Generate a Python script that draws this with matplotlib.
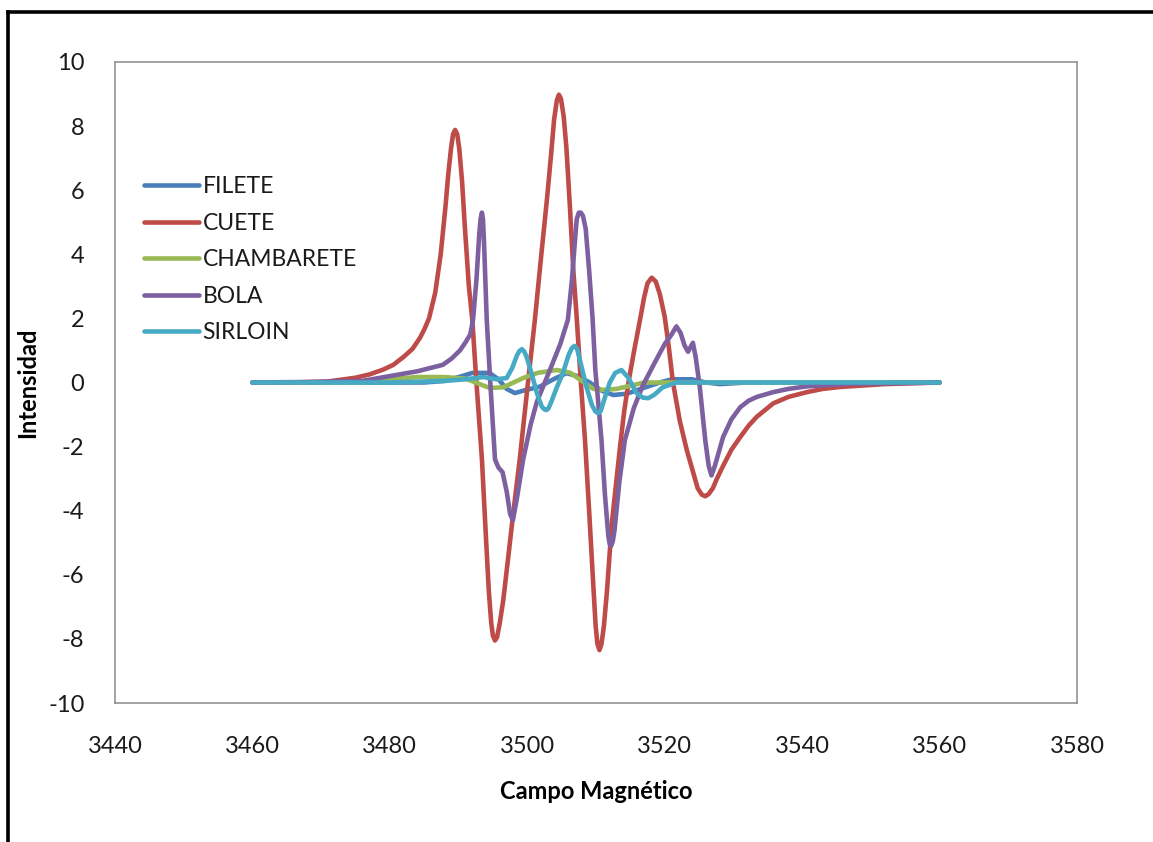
import matplotlib
matplotlib.use("Agg")
import matplotlib.pyplot as plt
from matplotlib.lines import Line2D

plt.rcParams['font.family'] = ['Lato', 'DejaVu Sans']
plt.rcParams['axes.unicode_minus'] = False

# EPR spectra: magnetic field (G) vs. intensity for each cut of beef
field_filete = [3460, 3485, 3488, 3490.5, 3492, 3494.5, 3495.8, 3497, 3498.2, 3499.5,
                3501.8, 3503.8, 3505.7, 3507.3, 3509.1, 3510.8, 3512.5, 3514.5, 3516.5,
                3519.3, 3521, 3524, 3526, 3528, 3532, 3560]
int_filete = [0, 0.0, 0.05, 0.2, 0.3, 0.3, 0.1, -0.2, -0.33, -0.25,
              -0.13, 0.1, 0.29, 0.2, 0.0, -0.25, -0.39, -0.35, -0.2,
              0.0, 0.1, 0.1, 0.0, -0.05, 0.0, 0]

field_cuete = [3460, 3466, 3471, 3475, 3477, 3479, 3480.5, 3482, 3483.3, 3484.4,
               3485.0, 3485.7, 3486.6, 3487.4, 3488.1, 3488.5, 3488.9, 3489.2, 3489.5,
               3489.8, 3490.1, 3490.5, 3490.9, 3491.5, 3492.0, 3492.6, 3493.4, 3494.0,
               3494.4, 3494.75, 3495.0, 3495.3, 3495.6, 3496.0, 3496.5, 3497.2, 3498.0,
               3498.9, 3500.0, 3501.1, 3502.0, 3502.9, 3503.5, 3503.9, 3504.3, 3504.6,
               3504.9, 3505.3, 3505.7, 3506.2, 3506.7, 3507.2, 3507.8, 3508.4, 3509.0,
               3509.6, 3509.95, 3510.2, 3510.5, 3510.8, 3511.15, 3511.6, 3512.3, 3512.9,
               3513.5, 3514.1, 3514.8, 3515.6, 3516.4, 3517.0, 3517.5, 3518.1, 3518.7,
               3519.3, 3520.0, 3520.6, 3521.2, 3522.2, 3523.2, 3524.2, 3524.8, 3525.4,
               3525.9, 3526.4, 3527.0, 3527.6, 3528.5, 3529.7, 3531.0, 3532.2, 3533.4,
               3535.8, 3538.0, 3540.7, 3543.0, 3545.5, 3552, 3560]
int_cuete = [0, 0.0, 0.03, 0.15, 0.25, 0.4, 0.55, 0.8, 1.05, 1.4,
             1.65, 2.0, 2.8, 4.0, 5.5, 6.5, 7.3, 7.75, 7.88,
             7.75, 7.3, 6.3, 4.9, 3.0, 1.95, 0.0, -2.4, -4.9,
             -6.5, -7.5, -7.9, -8.05, -7.95, -7.5, -6.8, -5.5, -4.0,
             -2.4, -0.2, 1.95, 3.9, 5.8, 7.2, 8.2, 8.8, 8.98,
             8.85, 8.3, 7.3, 5.5, 3.5, 2.0, 0.0, -1.8, -4.0,
             -6.3, -7.6, -8.15, -8.35, -8.15, -7.6, -6.5, -4.4, -3.2,
             -2.0, -0.9, 0.1, 1.05, 1.95, 2.65, 3.1, 3.27, 3.15,
             2.75, 2.05, 1.1, 0.0, -1.2, -2.1, -2.85, -3.3, -3.5,
             -3.55, -3.48, -3.3, -3.0, -2.6, -2.1, -1.7, -1.35, -1.07,
             -0.65, -0.45, -0.3, -0.2, -0.14, -0.05, 0]

field_chambarete = [3460, 3476, 3480, 3484, 3488, 3491, 3492.5, 3494.5, 3496.5, 3499.4,
                    3501.5, 3504.3, 3506.3, 3507.7, 3509.6, 3511, 3513, 3515, 3517, 3560]
int_chambarete = [0, 0.0, 0.1, 0.17, 0.17, 0.12, 0.0, -0.17, -0.15, 0.14,
                  0.3, 0.39, 0.3, 0.08, -0.2, -0.23, -0.2, -0.1, 0.0, 0]

field_bola = [3460, 3470, 3476, 3480, 3484, 3487.7, 3489.0, 3490.2, 3491.0, 3491.7,
              3492.1, 3492.6, 3493.0, 3493.2, 3493.4, 3493.55, 3493.7, 3494.1, 3494.7,
              3495.3, 3495.8, 3496.4, 3497.0, 3497.5, 3497.9, 3498.5, 3499.4, 3500.5,
              3501.4, 3502.3, 3503.5, 3504.8, 3505.9, 3506.5, 3507.0, 3507.2, 3507.5,
              3507.8, 3508.1, 3508.5, 3509.0, 3509.5, 3509.9, 3510.4, 3510.8, 3511.3,
              3511.8, 3512.0, 3512.2, 3512.45, 3512.7, 3513.4, 3514.2, 3515.5, 3516.8,
              3518.5, 3520.0, 3521.0, 3521.7, 3522.3, 3522.9, 3523.4, 3524.1, 3524.5,
              3525.1, 3525.9, 3526.4, 3526.8, 3527.3, 3528.5, 3529.7, 3531.0, 3532.2,
              3533.4, 3535.8, 3538.0, 3540.7, 3547, 3560]
int_bola = [0, 0.02, 0.05, 0.2, 0.35, 0.55, 0.75, 1.0, 1.25, 1.5,
            1.95, 3.2, 4.6, 5.1, 5.3, 5.1, 4.4, 1.95, -0.3,
            -2.4, -2.65, -2.8, -3.4, -4.1, -4.3, -3.6, -2.4, -1.3,
            -0.6, -0.13, 0.5, 1.2, 1.95, 3.2, 4.6, 5.1, 5.3,
            5.3, 5.2, 4.8, 3.5, 2.0, 0.4, -0.8, -1.8, -3.5,
            -4.8, -5.05, -5.1, -4.95, -4.6, -3.1, -1.8, -0.8, -0.1,
            0.6, 1.2, 1.5, 1.75, 1.55, 1.15, 0.96, 1.24, 0.8,
            -0.13, -1.8, -2.6, -2.9, -2.6, -1.7, -1.15, -0.77, -0.57,
            -0.45, -0.3, -0.2, -0.12, -0.04, 0]

field_sirloin = [3460, 3480, 3488, 3491, 3493.6, 3495.5, 3497.0, 3497.8, 3498.5, 3498.85,
                 3499.2, 3499.55, 3499.9, 3500.6, 3501.4, 3502.1, 3502.5, 3502.8, 3503.1,
                 3503.5, 3504.3, 3505.2, 3506.0, 3506.5, 3506.9, 3507.25, 3507.6, 3508.6,
                 3509.4, 3509.9, 3510.3, 3510.7, 3511.1, 3512.0, 3512.8, 3513.7, 3514.7,
                 3515.9, 3516.8, 3517.6, 3518.5, 3519.7, 3521.7, 3560]
int_sirloin = [0, 0.0, 0.05, 0.1, 0.17, 0.1, 0.14, 0.45, 0.85, 0.98,
               1.04, 0.97, 0.8, 0.3, -0.33, -0.75, -0.84, -0.86, -0.8,
               -0.6, -0.15, 0.3, 0.85, 1.08, 1.14, 1.05, 0.75, -0.13,
               -0.7, -0.9, -0.96, -0.88, -0.6, 0.0, 0.3, 0.39, 0.15,
               -0.33, -0.47, -0.49, -0.38, -0.15, 0.0, 0]

series = [
    ("FILETE", field_filete, int_filete, "#4A7EBB"),
    ("CUETE", field_cuete, int_cuete, "#BE4B48"),
    ("CHAMBARETE", field_chambarete, int_chambarete, "#98B954"),
    ("BOLA", field_bola, int_bola, "#7D60A0"),
    ("SIRLOIN", field_sirloin, int_sirloin, "#46AAC5"),
]

x_ticks = [3440, 3460, 3480, 3500, 3520, 3540, 3560, 3580]
y_ticks = [-10, -8, -6, -4, -2, 0, 2, 4, 6, 8, 10]

W, H = 1153, 842
fig = plt.figure(figsize=(W / 100, H / 100), dpi=100)
ax = fig.add_axes([115 / W, 1 - 703 / H, (1077 - 115) / W, (703 - 62) / H])

for name, fx, fy, color in series:
    ax.plot(fx, fy, color=color, lw=3.3, label=name,
            solid_joinstyle='round', solid_capstyle='round')

ax.set_xlim(3440, 3580)
ax.set_ylim(-10, 10)
ax.set_xticks(x_ticks)
ax.set_yticks(y_ticks)
ax.tick_params(length=0, labelsize=17, colors='#1a1a1a')
ax.tick_params(axis='x', pad=24)
ax.tick_params(axis='y', pad=22)
for sp in ax.spines.values():
    sp.set_color('#8a8a8a')
    sp.set_linewidth(1.1)

ax.set_xlabel("Campo Magnético", fontsize=17, fontweight='bold', labelpad=16)
ax.set_ylabel("Intensidad", fontsize=17, fontweight='bold')
ax.yaxis.set_label_coords(-0.079, 0.5)

leg = ax.legend(loc='upper left', bbox_to_anchor=(144 / W, 1 - 176 / H),
                bbox_transform=fig.transFigure, frameon=False, fontsize=16.5,
                handlelength=2.4, handletextpad=0.15, labelspacing=0.68,
                borderpad=0, borderaxespad=0)
for t in leg.get_texts():
    t.set_color('#1a1a1a')
for h in leg.get_lines():
    h.set_linewidth(3.3)

# outer frame of the chart
fig.add_artist(Line2D([8 / W, 1], [1 - 12 / H, 1 - 12 / H], color='black', lw=2.6,
                      transform=fig.transFigure, solid_capstyle='projecting'))
fig.add_artist(Line2D([8 / W, 8 / W], [0, 1 - 12 / H], color='black', lw=2.6,
                      transform=fig.transFigure, solid_capstyle='projecting'))

fig.savefig("out.png", dpi=100, facecolor='white')
